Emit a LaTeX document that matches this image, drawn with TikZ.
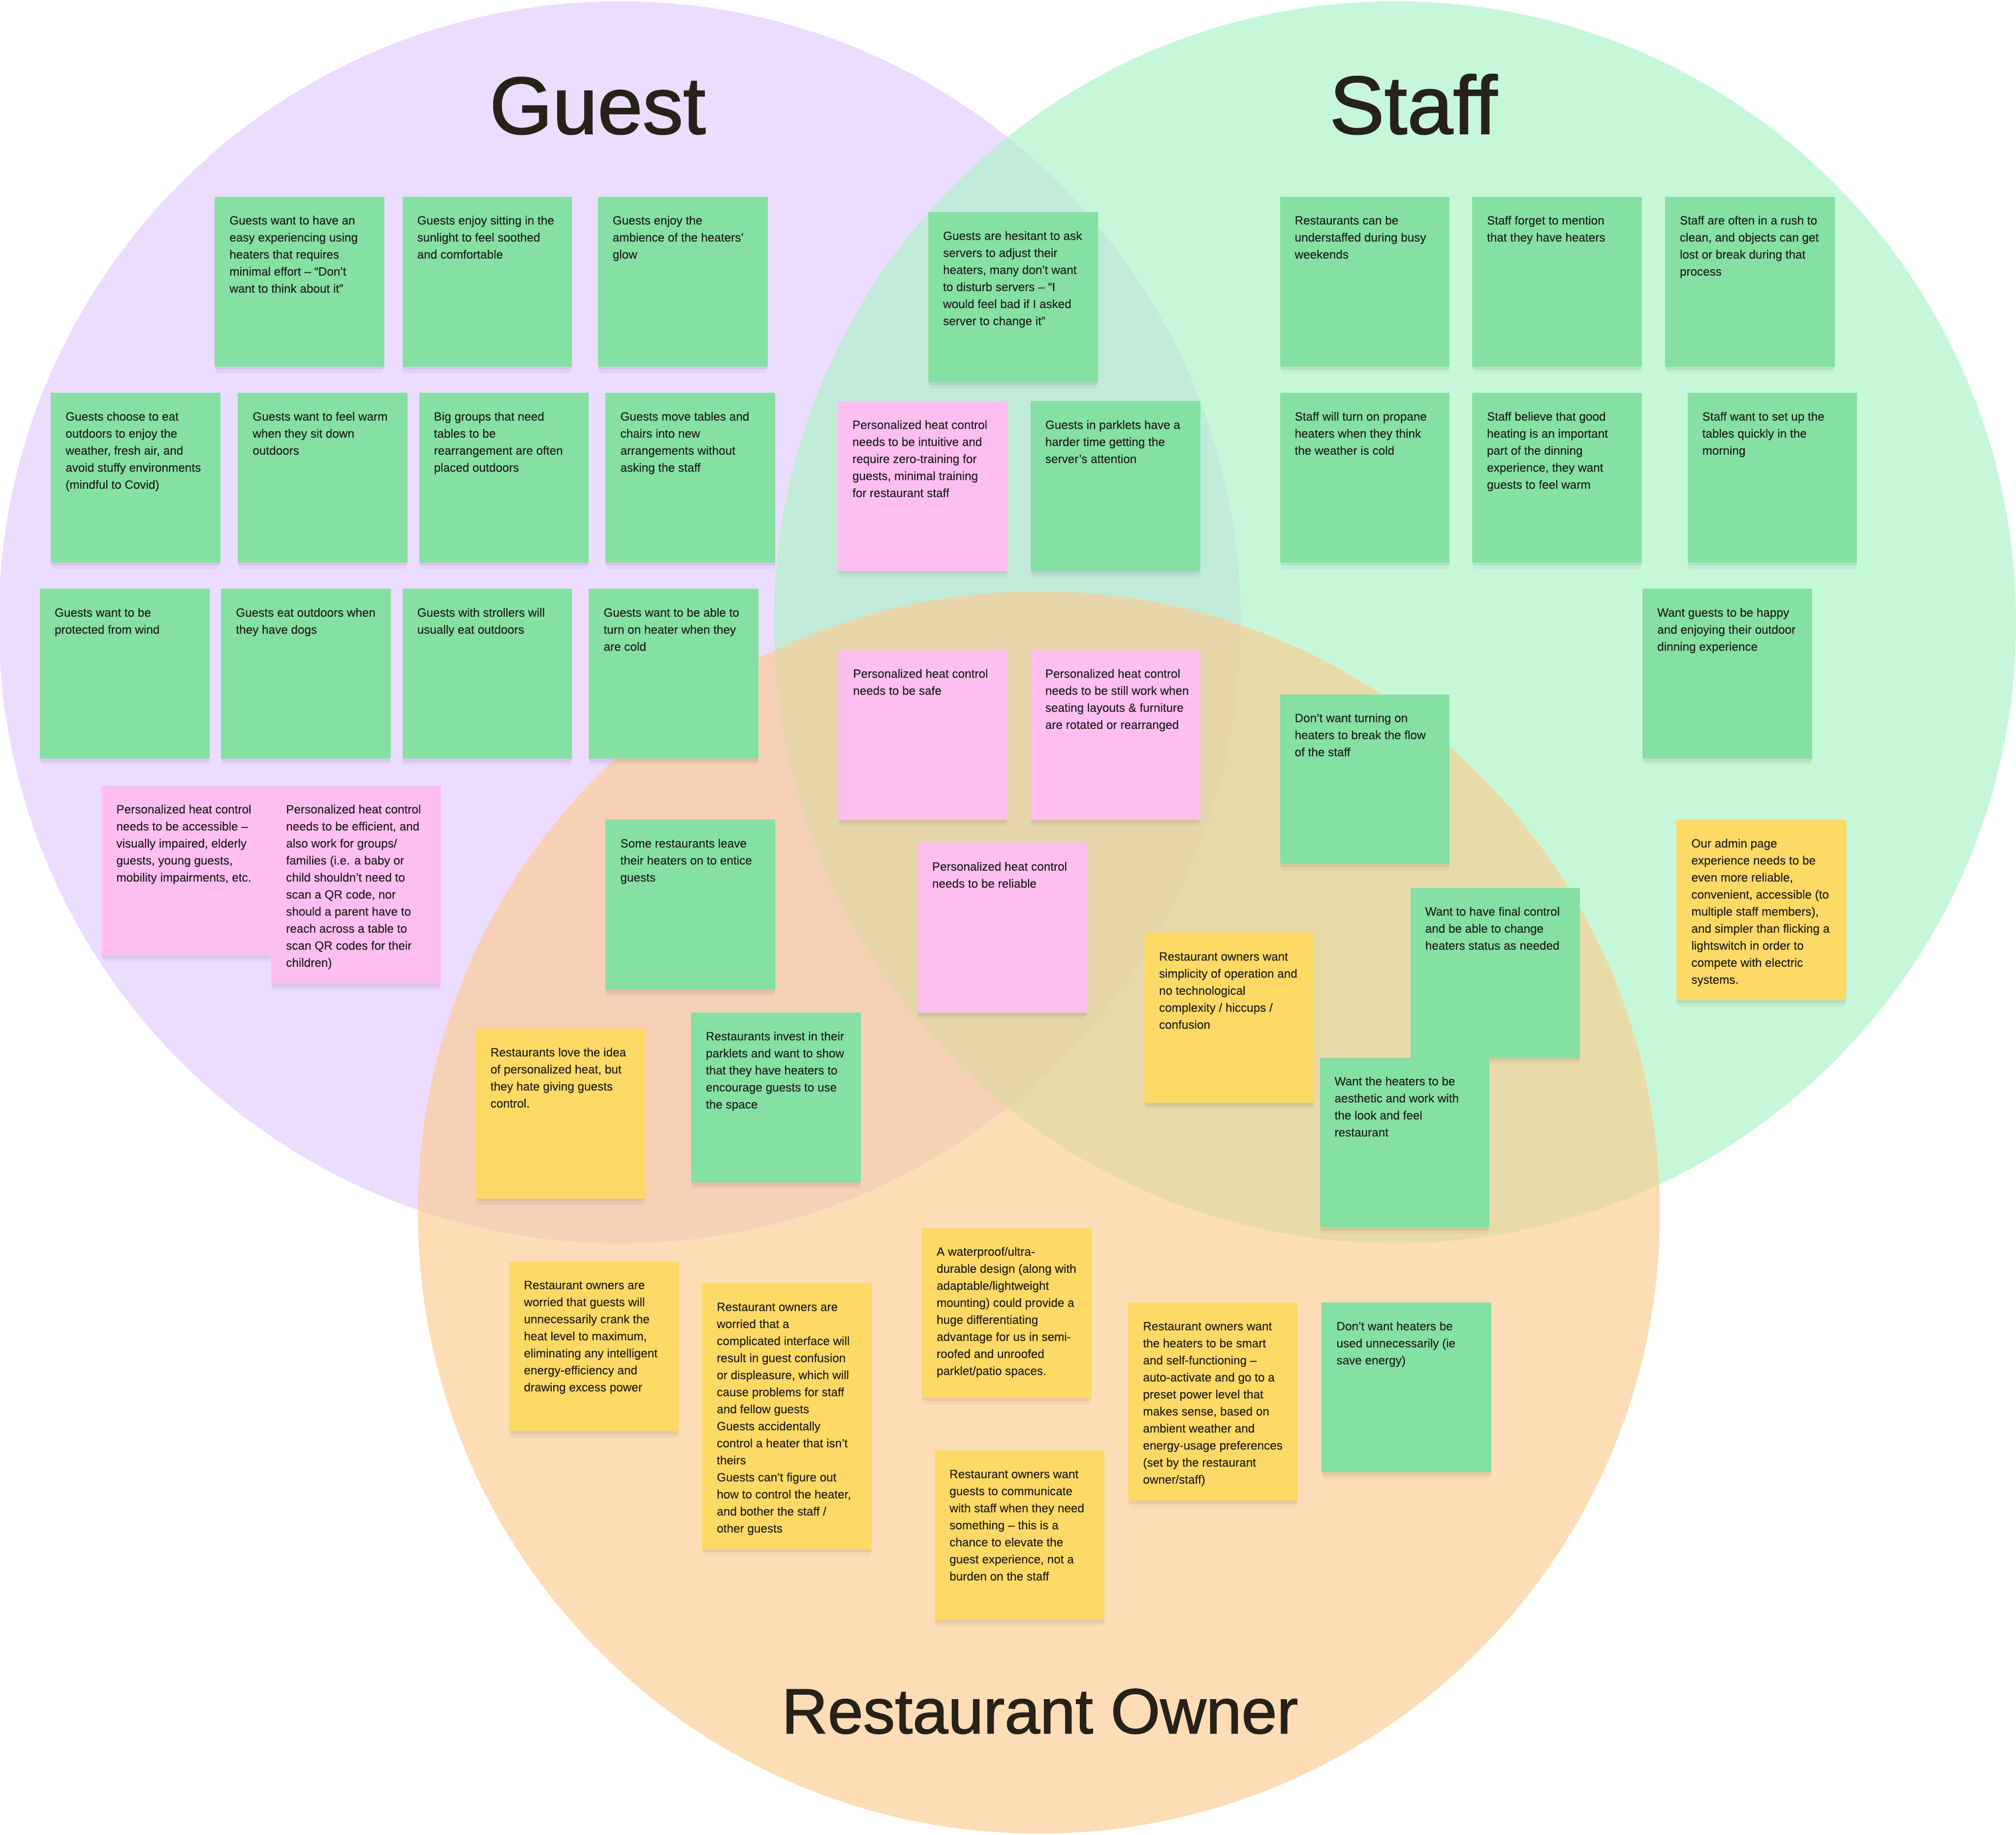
\documentclass[tikz,border=0pt]{standalone}
\usepackage{fontspec}
\setmainfont{Liberation Sans}
\newfontfamily\titlefont{Liberation Sans}[FakeBold=1.4]
\newfontfamily\notefamily{Liberation Sans}[FakeBold=0.35]
\definecolor{guestc}{RGB}{236,220,255}
\definecolor{staffc}{RGB}{170,243,198}
\definecolor{ownerc}{RGB}{252,204,144}
\definecolor{notegreen}{RGB}{133,224,163}
\definecolor{notepink}{RGB}{255,190,240}
\definecolor{noteyellow}{RGB}{255,217,102}
\definecolor{notetext}{RGB}{32,32,30}
\definecolor{titletext}{RGB}{38,34,26}
\newcommand{\notefont}{\notefamily\fontsize{9.3}{13.25}\selectfont}
\tikzset{
  sticky/.style={rectangle,anchor=north west,minimum width=132pt,inner sep=0pt,outer sep=0pt,draw=none},
  gnote/.style={sticky,fill=notegreen},
  pnote/.style={sticky,fill=notepink},
  ynote/.style={sticky,fill=noteyellow},
  ntext/.style={anchor=base west,inner sep=0pt,outer sep=0pt,text=notetext,font=\notefont},
  titlestyle/.style={anchor=base,inner sep=0pt,text=titletext},
  venn/.style={fill opacity=0.65}
}
% #1 style, #2 name, #3 x, #4 y, #5 height, #6 text
\newcommand{\stickynote}[6]{%
  \fill[black,opacity=0.05] (#3,#4+2) rectangle (#3+132,#4+#5+2.5);
  \fill[black,opacity=0.035] (#3+1,#4+4) rectangle (#3+131,#4+#5+5);
  \node[#1,minimum height=#5pt] (#2) at (#3,#4) {};
  \node[ntext] (#2t) at ([xshift=11.5pt,yshift=-21.6pt]#2.north west) {\parbox[t]{150pt}{\raggedright #6}};
}
\begin{document}
\begin{tikzpicture}[x=1pt,y=-1pt]
\useasboundingbox (0,0) rectangle (1568,1427);
\fill[white] (0,0) rectangle (1568,1427);
% circles
\fill[guestc] (482,484) circle[radius=483];
\fill[staffc,venn] (1085,484) circle[radius=483];
\fill[ownerc,venn] (808,943) circle[radius=483];
% titles
\node[titlestyle,font=\titlefont\fontsize{63}{70}\selectfont] (guestT) at (464.8,104) {Guest};
\node[titlestyle,font=\titlefont\fontsize{64}{70}\selectfont] (staffT) at (1099.3,104) {Staff};
\node[titlestyle,font=\titlefont\fontsize{49.5}{56}\selectfont] (ownerT) at (808.9,1348) {Restaurant Owner};
% Guest
\stickynote{gnote}{n1}{167}{153}{132}{Guests want to have an\\easy experiencing using\\heaters that requires\\minimal effort – “Don’t\\want to think about it”}
\stickynote{gnote}{n2}{313}{153}{132}{Guests enjoy sitting in the\\sunlight to feel soothed\\and comfortable}
\stickynote{gnote}{n3}{465}{153}{132}{Guests enjoy the\\ambience of the heaters’\\glow}
\stickynote{gnote}{n4}{39.5}{305.5}{132}{Guests choose to eat\\outdoors to enjoy the\\weather, fresh air, and\\avoid stuffy environments\\(mindful to Covid)}
\stickynote{gnote}{n5}{185}{305.5}{132}{Guests want to feel warm\\when they sit down\\outdoors}
\stickynote{gnote}{n6}{326}{305.5}{132}{Big groups that need\\tables to be\\rearrangement are often\\placed outdoors}
\stickynote{gnote}{n7}{471}{305.5}{132}{Guests move tables and\\chairs into new\\arrangements without\\asking the staff}
\stickynote{gnote}{n8}{31}{458}{132}{Guests want to be\\protected from wind}
\stickynote{gnote}{n9}{172}{458}{132}{Guests eat outdoors when\\they have dogs}
\stickynote{gnote}{n10}{313}{458}{132}{Guests with strollers will\\usually eat outdoors}
\stickynote{gnote}{n11}{458}{458}{132}{Guests want to be able to\\turn on heater when they\\are cold}
\stickynote{pnote}{n12}{79}{611}{132}{Personalized heat control\\needs to be accessible –\\visually impaired, elderly\\guests, young guests,\\mobility impairments, etc.}
\stickynote{pnote}{n13}{211}{611}{154}{Personalized heat control\\needs to be efficient, and\\also work for groups/\\families (i.e. a baby or\\child shouldn’t need to\\scan a QR code, nor\\should a parent have to\\reach across a table to\\scan QR codes for their\\children)}
\stickynote{gnote}{n14}{471}{637.5}{132}{Some restaurants leave\\their heaters on to entice\\guests}
% Guest & Staff
\stickynote{gnote}{n15}{722}{165}{132}{Guests are hesitant to ask\\servers to adjust their\\heaters, many don’t want\\to disturb servers – “I\\would feel bad if I asked\\server to change it”}
\stickynote{pnote}{n16}{651.5}{312}{132}{Personalized heat control\\needs to be intuitive and\\require zero-training for\\guests, minimal training\\for restaurant staff}
\stickynote{gnote}{n17}{801.5}{312}{132}{Guests in parklets have a\\harder time getting the\\server’s attention}
% Staff
\stickynote{gnote}{n18}{995.5}{153}{132}{Restaurants can be\\understaffed during busy\\weekends}
\stickynote{gnote}{n19}{1145}{153}{132}{Staff forget to mention\\that they have heaters}
\stickynote{gnote}{n20}{1295}{153}{132}{Staff are often in a rush to\\clean, and objects can get\\lost or break during that\\process}
\stickynote{gnote}{n21}{995.5}{305.5}{132}{Staff will turn on propane\\heaters when they think\\the weather is cold}
\stickynote{gnote}{n22}{1145}{305.5}{132}{Staff believe that good\\heating is an important\\part of the dinning\\experience, they want\\guests to feel warm}
\stickynote{gnote}{n23}{1312.5}{305.5}{132}{Staff want to set up the\\tables quickly in the\\morning}
\stickynote{gnote}{n24}{1277.5}{458}{132}{Want guests to be happy\\and enjoying their outdoor\\dinning experience}
\stickynote{ynote}{n25}{1304}{637.5}{140.5}{Our admin page\\experience needs to be\\even more reliable,\\convenient, accessible (to\\multiple staff members),\\and simpler than flicking a\\lightswitch in order to\\compete with electric\\systems.}
% Staff & Owner
\stickynote{gnote}{n26}{995.5}{540}{132}{Don’t want turning on\\heaters to break the flow\\of the staff}
\stickynote{ynote}{n29}{890}{725.5}{132}{Restaurant owners want\\simplicity of operation and\\no technological\\complexity / hiccups /\\confusion}
\stickynote{gnote}{n27}{1097}{690.5}{132}{Want to have final control\\and be able to change\\heaters status as needed}
\stickynote{gnote}{n28}{1026.5}{822.5}{132}{Want the heaters to be\\aesthetic and work with\\the look and feel\\restaurant}
% Center
\stickynote{pnote}{n30}{652}{505.5}{132}{Personalized heat control\\needs to be safe}
\stickynote{pnote}{n31}{801.5}{505.5}{132}{Personalized heat control\\needs to be still work when\\seating layouts \& furniture\\are rotated or rearranged}
\stickynote{pnote}{n32}{713.5}{655.5}{132}{Personalized heat control\\needs to be reliable}
% Guest & Owner
\stickynote{ynote}{n33}{370}{800}{132}{Restaurants love the idea\\of personalized heat, but\\they hate giving guests\\control.}
\stickynote{gnote}{n34}{537.5}{787.5}{132}{Restaurants invest in their\\parklets and want to show\\that they have heaters to\\encourage guests to use\\the space}
% Owner
\stickynote{ynote}{n35}{396}{981}{132}{Restaurant owners are\\worried that guests will\\unnecessarily crank the\\heat level to maximum,\\eliminating any intelligent\\energy-efficiency and\\drawing excess power}
\stickynote{ynote}{n36}{546}{998}{207}{Restaurant owners are\\worried that a\\complicated interface will\\result in guest confusion\\or displeasure, which will\\cause problems for staff\\and fellow guests\\Guests accidentally\\control a heater that isn’t\\theirs\\Guests can’t figure out\\how to control the heater,\\and bother the staff /\\other guests}
\stickynote{ynote}{n37}{717}{955}{132}{A waterproof/ultra-\\durable design (along with\\adaptable/lightweight\\mounting) could provide a\\huge differentiating\\advantage for us in semi-\\roofed and unroofed\\parklet/patio spaces.}
\stickynote{ynote}{n38}{727}{1128}{132}{Restaurant owners want\\guests to communicate\\with staff when they need\\something – this is a\\chance to elevate the\\guest experience, not a\\burden on the staff}
\stickynote{ynote}{n39}{877.5}{1013}{154}{Restaurant owners want\\the heaters to be smart\\and self-functioning –\\auto-activate and go to a\\preset power level that\\makes sense, based on\\ambient weather and\\energy-usage preferences\\(set by the restaurant\\owner/staff)}
\stickynote{gnote}{n40}{1028}{1013}{132}{Don’t want heaters be\\used unnecessarily (ie\\save energy)}
\end{tikzpicture}
\end{document}
